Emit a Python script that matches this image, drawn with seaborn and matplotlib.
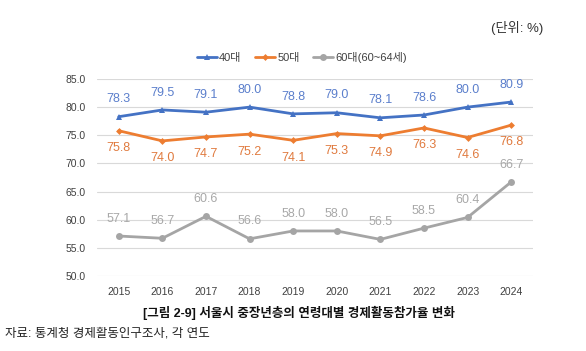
import matplotlib
matplotlib.use("Agg")
import matplotlib.pyplot as plt
import numpy as np
import pandas as pd
import seaborn as sns

years = [2015, 2016, 2017, 2018, 2019, 2020, 2021, 2022, 2023, 2024]
age40 = [78.3, 79.5, 79.1, 80.0, 78.8, 79.0, 78.1, 78.6, 80.0, 80.9]
age50 = [75.8, 74.0, 74.7, 75.2, 74.1, 75.3, 74.9, 76.3, 74.6, 76.8]
age60 = [57.1, 56.7, 60.6, 56.6, 58.0, 58.0, 56.5, 58.5, 60.4, 66.7]
series_names = ["40대", "50대", "60대(60~64세)"]

sns.set_theme(style="white")
plt.rcParams['font.family'] = ['Liberation Sans', 'Noto Sans CJK KR', 'DejaVu Sans']

df = pd.DataFrame({"year": [str(y) for y in years] * 3,
                   "value": age40 + age50 + age60,
                   "group": np.repeat(series_names, len(years))})
df["pos"] = list(range(len(years))) * 3

colors = ["#4472C4", "#ED7D31", "#A5A5A5"]
label_colors = ["#5b7fcc", "#e07a3e", "#a8a8a8"]
markers = ["^", "D", "o"]
msizes = [5, 3.5, 5]

fig = plt.figure(figsize=(5.86, 3.51), dpi=100)
ax = fig.add_axes([0.1655, 0.2137, 0.744, 0.5613])

for i, name in enumerate(series_names):
    sub = df[df["group"] == name]
    sns.lineplot(data=sub, x="pos", y="value", ax=ax, color=colors[i],
                 marker=markers[i], markersize=msizes[i], markeredgewidth=0,
                 linewidth=2, label=name)
    offs = 12.5 if i != 1 else -12.5
    for x, v in zip(sub["pos"], sub["value"]):
        ax.annotate(f"{v:.1f}", (x, v), xytext=(0, offs), textcoords="offset points",
                    ha="center", va="center", fontsize=9, color=label_colors[i])

ax.set_xlim(-0.5, len(years) - 0.5)
ax.set_ylim(50, 85)
ax.set_yticks(np.arange(50, 85.1, 5))
ax.set_yticklabels([f"{t:.1f}" for t in np.arange(50, 85.1, 5)], fontsize=7.5, color="#404040")
ax.set_xticks(range(len(years)))
ax.set_xticklabels([str(y) for y in years], fontsize=7.5, color="#404040")
ax.tick_params(axis="both", length=0, pad=8)
ax.grid(axis="y", color="#d9d9d9", linewidth=0.8)
ax.set_axisbelow(True)
for s in ax.spines.values():
    s.set_visible(False)
ax.set_xlabel("")
ax.set_ylabel("")

leg = ax.legend(loc="lower center", bbox_to_anchor=(0.47, 1.03), ncol=3, frameon=False,
                fontsize=8, handlelength=1.8, columnspacing=1.2, handletextpad=0.2)
for t in leg.get_texts():
    t.set_color("#404040")

fig.text(0.927, 0.92, "(단위: %)", ha="right", va="center", fontsize=9.5, color="#333333")
fig.text(0.51, 0.108, "[그림 2-9] 서울시 중장년층의 연령대별 경제활동참가율 변화", ha="center",
         va="center", fontsize=9, fontweight="bold", color="#111111")
fig.text(0.008, 0.05, "자료: 통계청 경제활동인구조사, 각 연도", ha="left", va="center",
         fontsize=9, color="#222222")

fig.savefig("out.png", dpi=100)
